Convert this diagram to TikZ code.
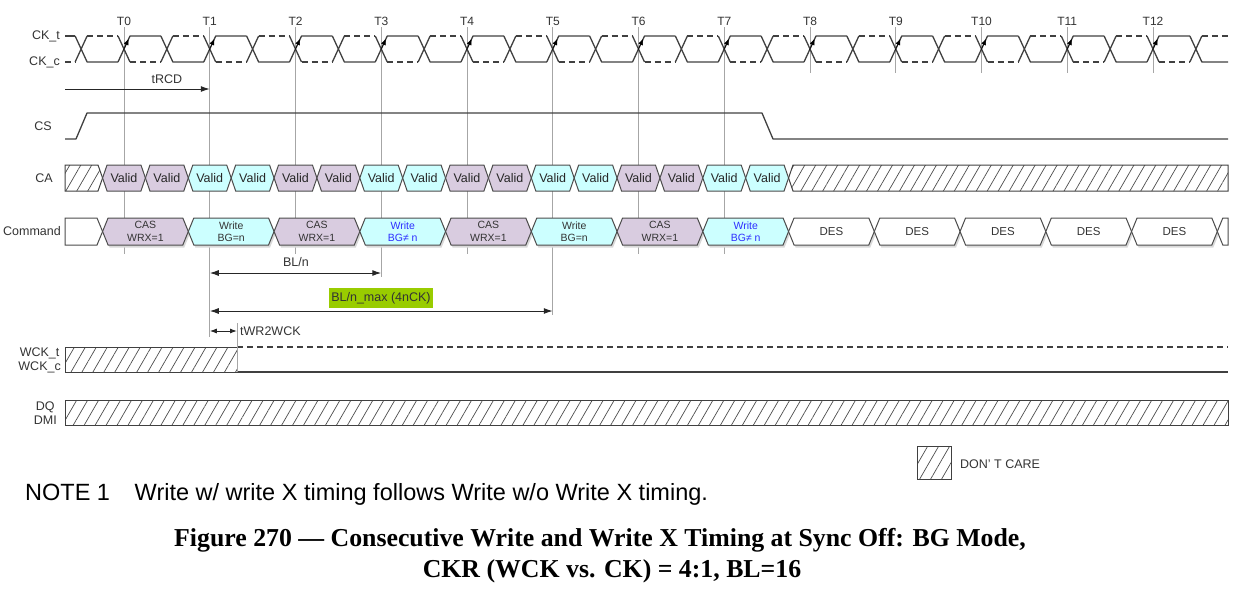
\documentclass[tikz,border=0pt]{standalone}
\usepackage{fontspec}
\setmainfont{Liberation Sans}
\newfontfamily\capfont{Liberation Serif}
\usetikzlibrary{arrows.meta,patterns.meta,calc}
\definecolor{casbg}{HTML}{D9CCE0}
\definecolor{wrbg}{HTML}{CCFFFF}
\definecolor{hilite}{HTML}{99CC00}
\definecolor{bgblue}{HTML}{2E2EFF}
\definecolor{tline}{HTML}{A6A6A6}
\definecolor{ink}{HTML}{333333}
% hexagonal bus cell: options, left x, right x, top y, bottom y, point width
\newcommand{\hexcell}[6]{%
  \path[#1] (#2,{(#4+#5)/2}) -- (#2+#6,#4) -- (#3-#6,#4) -- (#3,{(#4+#5)/2})
    -- (#3-#6,#5) -- (#2+#6,#5) -- cycle;}
\tikzset{
  wave/.style     = {line width=1.3pt, draw=black!75, line join=round},
  wavedash/.style = {wave, dash pattern=on 6pt off 4pt},
  tick/.style     = {line width=1pt, draw=tline},
  cell/.style     = {draw=black!70, line width=1pt},
  hatch/.style    = {draw=black!75, line width=1pt,
                     pattern={Lines[angle=60,distance=9.5pt,line width=0.7pt]},
                     pattern color=black!70},
  shade/.style    = {fill=black!15},
  sig/.style      = {font=\fontsize{12.5}{14}\selectfont, text=ink, inner sep=0pt},
  tlbl/.style     = {font=\fontsize{12}{14}\selectfont, text=ink, inner sep=1pt},
  vtxt/.style     = {font=\fontsize{12.5}{14}\selectfont, text=black!85, inner sep=0pt},
  ctxt/.style     = {font=\fontsize{10.5}{12.5}\selectfont, align=center, inner sep=0pt},
  dlbl/.style     = {font=\fontsize{12.5}{14}\selectfont, text=ink, inner sep=1pt},
  dimr/.style     = {line width=1pt, draw=black!85, -{Latex[length=9pt,width=6pt]}},
  dimb/.style     = {line width=1pt, draw=black!85,
                     {Latex[length=9pt,width=6pt]}-{Latex[length=9pt,width=6pt]}},
  ckarr/.style    = {-{Latex[length=6pt,width=5pt]}, line width=0.5pt},
}

\begin{document}
\begin{tikzpicture}[x=1pt,y=-1pt]
  \useasboundingbox (0,0) rectangle (1243,590);
  % clock edges T0..T12
  \foreach \k/\yb in {0/254,1/337,2/254,3/277,4/254,5/315,6/254,7/254,
                      8/73,9/73,10/73,11/73,12/73} {
    \pgfmathsetmacro\tx{124+\k*85.75}
    \coordinate (T\k) at (\tx,27);
    \node[tlbl, anchor=south] (lT\k) at (T\k) {T\k};
    \draw[tick] (T\k) -- (\tx,\yb);
  }
  % CK_t / CK_c
  \node[sig, anchor=east] (ckt) at (60,36) {CK\_t};
  \node[sig, anchor=east] (ckc) at (60,62) {CK\_c};
  \draw[wave] (65,36) -- (75.1,36);
  \draw[wavedash] (65,62) -- (75.1,62);
  \foreach \j in {-1,...,25} {
    \pgfmathsetmacro\ex{124+\j*42.875}
    \pgfmathsetmacro\fx{min(\ex+36.875,1228)}
    \ifodd\j
      \draw[wave] (\ex-6,36) -- (\ex+6,62) -- (\fx,62);
      \draw[wave] (\ex-6,62) -- (\ex+6,36);
      \draw[wavedash] (\ex+6,36) -- (\fx,36);
    \else
      \draw[wave] (\ex-6,62) -- (\ex+6,36) -- (\fx,36);
      \draw[wave] (\ex-6,36) -- (\ex+6,62);
      \draw[wavedash] (\ex+6,62) -- (\fx,62);
    \fi
  }
  \foreach \k in {0,...,12}
    \draw[ckarr] ($(T\k)+(-0.5,23)$) -- ($(T\k)+(4.6,12)$);
  % tRCD
  \coordinate (rcd0) at (65,89);
  \draw[dimr] (rcd0) -- (T1 |- rcd0);
  \node[dlbl] (rcd) at (167,79) {tRCD};
  % CS
  \node[sig, anchor=east] (cs) at (52,126) {CS};
  \draw[wave] (65,139) -- (76,139) -- (87,113) -- (762,113) -- (773,139) -- (1228,139);
  % CA bus
  \node[sig, anchor=east] (ca) at (53,178) {CA};
  \path[hatch] (65,165) -- (98,165) -- (102.6,178) -- (98,191) -- (65,191) -- cycle;
  \foreach \k in {0,...,15} {
    \pgfmathsetmacro\xa{102.56+\k*42.875}
    \pgfmathsetmacro\xb{\xa+42.875}
    \pgfmathtruncatemacro\grp{mod(floor(\k/2),2)}
    \ifnum\grp=0 \def\cfill{casbg}\else\def\cfill{wrbg}\fi
    \hexcell{cell, fill=\cfill}{\xa}{\xb}{165}{191}{4.5}
    \node[vtxt] (ca\k) at ({\xa+21.44},178) {Valid};
  }
  \path[hatch] (788.56,178) -- (793,165) -- (1228,165) -- (1228,191) -- (793,191) -- cycle;
  % Command bus
  \node[sig, anchor=east] (cmd) at (61,231.5) {Command};
  \begin{scope}[shift={(1.5,2.5)}]
    \foreach \k in {0,...,12} {
      \pgfmathsetmacro\xa{102.56+\k*85.75}
      \pgfmathsetmacro\xb{\xa+85.75}
      \hexcell{shade}{\xa}{\xb}{218}{245}{5.5}
    }
  \end{scope}
  \path[cell, fill=white] (65,218) -- (97,218) -- (102.6,231.5) -- (97,245) -- (65,245) -- cycle;
  \foreach \k/\cfill/\ctext/\txt in {0/casbg/ink/{CAS\\WRX=1}, 1/wrbg/ink/{Write\\BG=n},
      2/casbg/ink/{CAS\\WRX=1}, 3/wrbg/bgblue/{Write\\BG≠ n}, 4/casbg/ink/{CAS\\WRX=1},
      5/wrbg/ink/{Write\\BG=n}, 6/casbg/ink/{CAS\\WRX=1}, 7/wrbg/bgblue/{Write\\BG≠ n},
      8/white/ink/{\fontsize{11.5}{13}\selectfont DES}, 9/white/ink/{\fontsize{11.5}{13}\selectfont DES},
      10/white/ink/{\fontsize{11.5}{13}\selectfont DES}, 11/white/ink/{\fontsize{11.5}{13}\selectfont DES},
      12/white/ink/{\fontsize{11.5}{13}\selectfont DES}} {
    \pgfmathsetmacro\xa{102.56+\k*85.75}
    \pgfmathsetmacro\xb{\xa+85.75}
    \hexcell{cell, fill=\cfill}{\xa}{\xb}{218}{245}{5.5}
    \node[ctxt, text=\ctext] (cmd\k) at ({\xa+42.875},231.5) {\txt};
  }
  \path[cell, fill=white] (1217.3,231.5) -- (1222.8,218) -- (1228,218) -- (1228,245)
    -- (1222.8,245) -- cycle;
  % burst timing
  \coordinate (ybl) at (0,273);
  \coordinate (yblm) at (0,311);
  \coordinate (ywr) at (0,331);
  \draw[dimb] (T1 |- ybl) -- (T3 |- ybl);
  \node[dlbl] (bln) at (296,262) {BL/n};
  \draw[dimb] (T1 |- yblm) -- (T5 |- yblm);
  \node[dlbl, fill=hilite, inner xsep=2pt, inner ysep=4pt] (blmax) at (381,298) {BL/n\_max (4nCK)};
  \coordinate (wckon) at (237,323);
  \draw[dimb, {Latex[length=7pt,width=5pt]}-{Latex[length=7pt,width=5pt]}] (T1 |- ywr) -- (wckon |- ywr);
  \node[dlbl, anchor=west] (twr) at (239,331) {tWR2WCK};
  % WCK
  \node[sig, align=center, anchor=east] (wck) at (61,360) {WCK\_t\\WCK\_c};
  \path[hatch] (65,347) rectangle (237,372);
  \draw[wavedash] (237,347) -- (1228,347);
  \draw[wave] (237,372) -- (1228,372);
  \draw[tick] (wckon) -- (237,372);
  % DQ
  \node[sig, align=center, anchor=east] (dq) at (57,413) {DQ\\DMI};
  \path[hatch] (65,400) rectangle (1228,425);
  % legend
  \path[hatch] (917,446) rectangle (951,479);
  \node[dlbl, anchor=west] (dcare) at (959,464) {DON’ T CARE};
  % note and caption
  \node[font=\fontsize{23.5}{26}\selectfont, anchor=west, inner sep=0pt] (note) at (25,494)
    {NOTE 1\hspace{1.05em}Write w/ write X timing follows Write w/o Write X timing.};
  \node[font=\capfont\bfseries\fontsize{25.8}{30}\selectfont, inner sep=0pt] (cap1) at (600,540)
    {Figure 270 — Consecutive Write and Write X Timing at Sync Off: BG Mode,};
  \node[font=\capfont\bfseries\fontsize{25.8}{30}\selectfont, inner sep=0pt] (cap2) at (612,571)
    {CKR (WCK vs. CK) = 4:1, BL=16};
\end{tikzpicture}
\end{document}
